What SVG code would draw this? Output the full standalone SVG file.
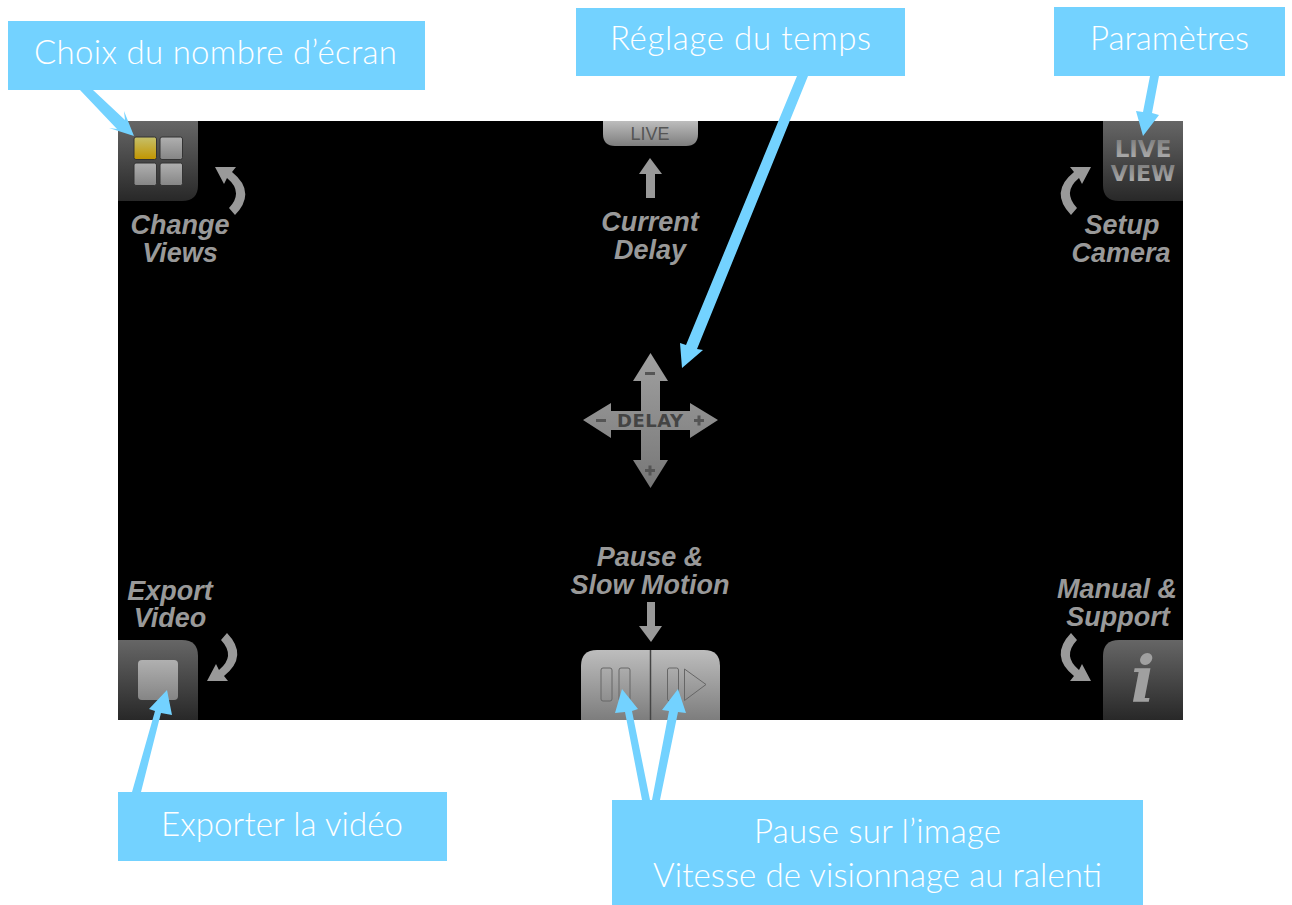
<svg xmlns="http://www.w3.org/2000/svg" xmlns:xlink="http://www.w3.org/1999/xlink" width="1292" height="905" viewBox="0 0 1292 905">
<style>
.box{fill:#73d2ff}
.ct{font-family:"Lato","Liberation Sans",sans-serif;font-weight:300;font-size:33px;fill:#fff;text-anchor:middle}
.lb{font-family:"Liberation Sans",Arial,sans-serif;font-weight:700;font-style:italic;font-size:27px;fill:#999;text-anchor:middle}
.con{fill:#73d2ff;stroke:none}
.cap{fill:#999}
.dk{fill:url(#dark)}
.gb{fill:url(#grey)}
.sq{fill:url(#sq);stroke:#333;stroke-width:1}
.hv{font-family:"DejaVu Sans",sans-serif;font-weight:700;text-anchor:middle}
</style>
<defs>
<linearGradient id="dark" x1="0" y1="0" x2="0" y2="1"><stop offset="0" stop-color="#666"/><stop offset="1" stop-color="#282828"/></linearGradient>
<linearGradient id="grey" x1="0" y1="0" x2="0" y2="1"><stop offset="0" stop-color="#bdbdbd"/><stop offset="1" stop-color="#7d7d7d"/></linearGradient>
<linearGradient id="sq" x1="0" y1="0" x2="0" y2="1"><stop offset="0" stop-color="#b0b0b0"/><stop offset="1" stop-color="#858585"/></linearGradient>
<linearGradient id="gold" x1="0" y1="0" x2="0" y2="1"><stop offset="0" stop-color="#c6c06a"/><stop offset="1" stop-color="#c29500"/></linearGradient>
<linearGradient id="cross" x1="0" y1="0" x2="0" y2="1"><stop offset="0" stop-color="#a0a0a0"/><stop offset="1" stop-color="#777"/></linearGradient>
<linearGradient id="vw" x1="0" y1="0" x2="0" y2="1"><stop offset="0" stop-color="#777"/><stop offset="1" stop-color="#b5b5b5"/></linearGradient>
<path id="curl" d="M215,167 L236,167 L232,172 Q257,192 235,215 L229,208 Q244,192 227,178 L224,184 Z"/>
</defs>
<rect id="screen" x="118" y="121" width="1065" height="599" fill="#000"/>

<g id="btn-views">
<path class="dk" d="M118,121H198V185Q198,201 182,201H118Z"/>
<rect x="134" y="137" width="22.500" height="22.500" rx="2" fill="url(#gold)" stroke="#333"/>
<rect class="sq" x="160" y="137" width="22.500" height="22.500" rx="2"/>
<rect class="sq" x="134" y="163" width="22.500" height="22.500" rx="2"/>
<rect class="sq" x="160" y="163" width="22.500" height="22.500" rx="2"/>
<use xlink:href="#curl" class="cap"/>
<text class="lb" x="180" y="234">Change</text>
<text class="lb" x="180" y="262">Views</text>
</g>

<g id="btn-live">
<path class="gb" d="M603,121H698V134Q698,146 686,146H615Q603,146 603,134Z"/>
<text x="650" y="140" text-anchor="middle" font-family="Liberation Sans, Arial, sans-serif" font-size="18" fill="#555">LIVE</text>
<polygon class="cap" points="650,158 662,174 655,174 655,198 646,198 646,174 639,174"/>
<text class="lb" x="650" y="231">Current</text>
<text class="lb" x="650" y="259">Delay</text>
</g>

<g id="btn-setup">
<path class="dk" d="M1103,121H1183V201H1119Q1103,201 1103,185Z"/>
<text class="hv" x="1143" y="157" font-size="23" fill="url(#vw)">LIVE</text>
<text class="hv" x="1143" y="181" font-size="22" fill="url(#vw)">VIEW</text>
<use xlink:href="#curl" class="cap" transform="matrix(-1 0 0 1 1306 0)"/>
<text class="lb" x="1122" y="234">Setup</text>
<text class="lb" x="1121" y="262">Camera</text>
</g>

<g id="delay-cross">
<polygon fill="url(#cross)" points="650.500,353 668,381 660,381 660,411 690,411 690,403 718,420 690,438 690,430 660,430 660,460 668,460 650.500,488 633,460 641,460 641,430 611,430 611,438 583,420 611,403 611,411 641,411 641,381 633,381"/>
<text class="hv" x="650" y="427" font-size="18" fill="#444" textLength="66">DELAY</text>
<rect x="645" y="372" width="10" height="3" fill="#555"/>
<rect x="596" y="419" width="10" height="3" fill="#555"/>
<path d="M694,420.500h10M699,415.500v10M645,470.500h10M650,465.500v10" stroke="#555" stroke-width="3" fill="none"/>
</g>

<g id="btn-pause">
<text class="lb" x="650" y="566">Pause &amp;</text>
<text class="lb" x="650" y="594">Slow Motion</text>
<polygon class="cap" points="647,602 655,602 655,626 662,626 651,642 639,626 647,626"/>
<path class="gb" d="M581,720V666Q581,650 597,650H704Q720,650 720,666V720Z"/>
<path d="M650.500,650V720" stroke="#444" stroke-width="1.500"/>
<g fill="none" stroke="#666" stroke-width="1">
<rect x="601" y="668" width="11" height="33" rx="2"/>
<rect x="619" y="668" width="11" height="33" rx="2"/>
<rect x="667.500" y="668" width="11" height="33" rx="2"/>
<polygon points="684.500,669 706,684.500 684.500,700.500"/>
</g>
</g>

<g id="btn-export">
<text class="lb" x="170" y="600">Export</text>
<text class="lb" x="170" y="627">Video</text>
<path class="dk" d="M118,640H182Q198,640 198,656V720H118Z"/>
<rect x="138" y="660" width="40" height="40" rx="4" fill="url(#sq)"/>
<use xlink:href="#curl" class="cap" transform="translate(-8 848) scale(1 -1)"/>
</g>

<g id="btn-info">
<text class="lb" x="1117" y="598">Manual &amp;</text>
<text class="lb" x="1118" y="626">Support</text>
<path class="dk" d="M1119,640H1183V720H1103V656Q1103,640 1119,640Z"/>
<text x="1143" y="701" text-anchor="middle" font-family="DejaVu Serif, serif" font-weight="700" font-style="italic" font-size="64" fill="#a0a0a0">i</text>
<use xlink:href="#curl" class="cap" transform="translate(1306 848) scale(-1 -1)"/>
</g>

<g id="connectors">
<polygon class="con" points="80,90 93,90 125,120 124,111 134,136 109,128 117,129"/>
<polygon class="con" points="797,76 808,76 697,349 703,350 682,368 680,343 686,345"/>
<polygon class="con" points="1150,76 1159,76 1152,113 1159,115 1143,136 1136,111 1143,112"/>
<polygon class="con" points="132,792 141,792 161,713 172,715 167,690 149,709 155,711"/>
<polygon class="con" points="642,800 650,800 632,711 638,709 622,689 615,713 625,712"/>
<polygon class="con" points="652,800 660,800 678,712 686,713 678,689 662,710 669,711"/>
</g>

<g id="note-views"><rect class="box" x="8" y="21" width="417" height="69"/><text class="ct" x="215.500" y="64" textLength="363">Choix du nombre d’écran</text></g>
<g id="note-delay"><rect class="box" x="576" y="8" width="329" height="68"/><text class="ct" x="740.500" y="50" textLength="261">Réglage du temps</text></g>
<g id="note-setup"><rect class="box" x="1054" y="7" width="231" height="69"/><text class="ct" x="1169.500" y="50" textLength="159">Paramètres</text></g>
<g id="note-export"><rect class="box" x="118" y="792" width="329" height="69"/><text class="ct" x="282" y="836" textLength="242">Exporter la vidéo</text></g>
<g id="note-pause"><rect class="box" x="612" y="800" width="531" height="105"/><text class="ct" x="877.500" y="843" textLength="247">Pause sur l’image</text><text class="ct" x="877.500" y="887" textLength="449">Vitesse de visionnage au ralenti</text></g>
</svg>
